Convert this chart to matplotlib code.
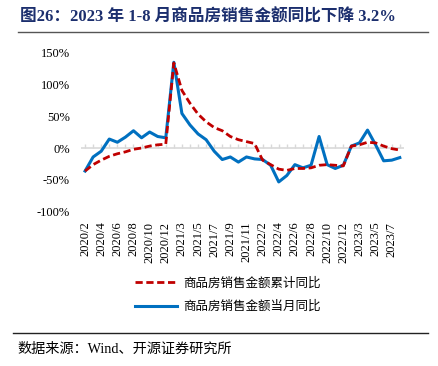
import matplotlib
matplotlib.use("Agg")
import matplotlib.pyplot as plt

plt.rcParams['font.family'] = ['Liberation Serif', 'Noto Sans CJK SC']
plt.rcParams['axes.unicode_minus'] = False

# months: Jan is merged into Feb in the source statistics
months = (["2020/%d" % m for m in range(2, 13)] +
          ["2021/%d" % m for m in range(2, 13)] +
          ["2022/%d" % m for m in range(2, 13)] +
          ["2023/%d" % m for m in range(2, 9)])

# cumulative yoy, %
cum_yoy = [-36, -26, -19, -13, -9, -6, -2, 0, 3, 5, 6,
           133, 90, 70, 53, 41, 32, 27, 18, 13, 10, 7,
           -19, -26, -33, -35, -32, -32, -31, -27, -26, -27, -28,
           3, 5, 9, 8, 3, -1, -3.2]

# monthly yoy, %
mon_yoy = [-36, -14, -5, 14, 9, 17, 27, 16, 25, 18, 16,
           134, 54, 36, 22, 13, -5, -18, -14, -22, -14, -17,
           -18, -27, -53, -43, -26, -31, -27, 18, -26, -32, -27,
           3, 8, 28, 5, -20, -19, -15]

yticks = [-100, -50, 0, 50, 100, 150]

fig = plt.figure(figsize=(4.38, 3.66), dpi=100)
ax = fig.add_axes([0.185, 0.4208, 0.737, 0.437])

x = list(range(len(months)))
ax.axhline(0, color='#d9d9d9', lw=1.2, zorder=1)
l1, = ax.plot(x, cum_yoy, color='#c00000', lw=2.0, dashes=(2.6, 1.3),
              label='商品房销售金额累计同比', zorder=3)
l2, = ax.plot(x, mon_yoy, color='#0070c0', lw=2.2, solid_joinstyle='round',
              label='商品房销售金额当月同比', zorder=2)

ax.set_xlim(-0.5, len(months) - 0.5)
ax.set_ylim(-100, 150)
ax.set_yticks(yticks)
ax.set_yticklabels(["%d%%" % v for v in yticks], fontsize=9)
ax.set_xticks(x[::2])
ax.set_xticklabels(months[::2], rotation=90, fontsize=9)
ax.tick_params(axis='both', length=0)
ax.tick_params(axis='y', pad=8)
ax.tick_params(axis='x', pad=7)
for s in ax.spines.values():
    s.set_visible(False)

# small month ticks along the zero line
sec = ax.secondary_xaxis(0.4)
sec.set_xticks(x)
sec.set_xticklabels([])
sec.tick_params(direction='in', length=3, color='#d9d9d9', width=1)
sec.spines['bottom'].set_visible(False)

fig.legend(handles=[l1, l2], loc='center', bbox_to_anchor=(0.52, 0.194),
           frameon=False, fontsize=9, handlelength=3.3, handletextpad=0.5,
           labelspacing=0.9)

fig.text(0.045, 0.951, "图26：2023 年 1-8 月商品房销售金额同比下降 3.2%",
         fontsize=12, fontweight='bold', color='#1c2f6e', va='center')
fig.add_artist(plt.Line2D([0.04, 0.978], [0.912, 0.912], color='#555555', lw=1.0))
fig.add_artist(plt.Line2D([0.03, 0.978], [0.09, 0.09], color='#222222', lw=1.0))
fig.text(0.04, 0.045, "数据来源：Wind、开源证券研究所", fontsize=10.2, va='center')

fig.savefig("out.png", dpi=100)
